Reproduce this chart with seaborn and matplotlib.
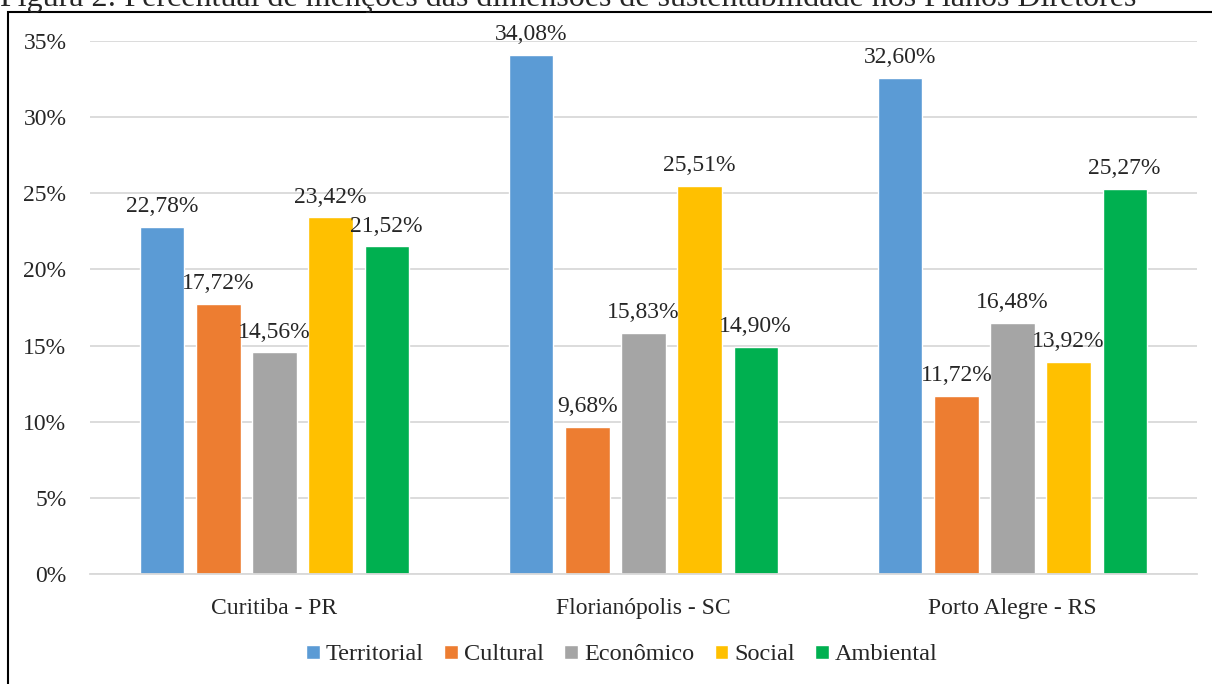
import pandas as pd
import matplotlib.pyplot as plt
import matplotlib.ticker as mticker
from matplotlib.patches import Rectangle
import seaborn as sns

cidades = ["Curitiba - PR", "Florianópolis - SC", "Porto Alegre - RS"]
dimensoes = ["Territorial", "Cultural", "Econômico", "Social", "Ambiental"]
territorial = [22.78, 34.08, 32.60]
cultural    = [17.72, 9.68, 11.72]
economico   = [14.56, 15.83, 16.48]
social      = [23.42, 25.51, 13.92]
ambiental   = [21.52, 14.90, 25.27]
cores = ["#5B9BD5", "#ED7D31", "#A5A5A5", "#FFC000", "#00B050"]

series = [territorial, cultural, economico, social, ambiental]
rows = []
for dim, vals in zip(dimensoes, series):
    for cid, v in zip(cidades, vals):
        rows.append({"cidade": cid, "dimensao": dim, "valor": v / 100})
df = pd.DataFrame(rows)

sns.set_theme(style="white")
plt.rcParams["font.family"] = ["Liberation Serif", "DejaVu Serif"]
FS = 17

fig = plt.figure(figsize=(12.12, 6.84), dpi=100)
ax = fig.add_axes([90 / 1212, 1 - 574 / 684, (1197 - 90) / 1212, (574 - 41) / 684])

sns.barplot(data=df, x="cidade", y="valor", hue="dimensao", order=cidades,
            hue_order=dimensoes, palette=cores, width=0.76, gap=0.21,
            saturation=1, ax=ax, legend=True)

ax.set_ylim(0, 0.35)
ax.set_yticks([i * 0.05 for i in range(8)])
ax.yaxis.set_major_formatter(mticker.FuncFormatter(lambda x, _: f"{x * 100:.0f}%"))
ax.yaxis.grid(True, color="#D9D9D9", linewidth=1.3)
ax.set_axisbelow(True)
for s in ["top", "right", "left"]:
    ax.spines[s].set_visible(False)
ax.spines["bottom"].set_color("#D9D9D9")
ax.spines["bottom"].set_linewidth(1.3)
ax.tick_params(axis="y", length=0, pad=17, labelsize=FS)
ax.tick_params(axis="x", length=0, pad=17, labelsize=FS)
ax.set_xlabel("")
ax.set_ylabel("")

for cont, vals in zip(ax.containers, series):
    ax.bar_label(cont, labels=[f"{v:.2f}".replace(".", ",") + "%" for v in vals],
                 padding=7, fontsize=FS)

handles, labels = ax.get_legend_handles_labels()
ax.legend(handles, labels, loc="center", bbox_to_anchor=(622 / 1212, 1 - 655 / 684),
          bbox_transform=fig.transFigure, ncol=5, frameon=False, fontsize=FS + 0.5,
          handlelength=0.55, handleheight=0.55, handletextpad=0.25, columnspacing=0.85)

fig.text(0.0, 1 - 6 / 684, "Figura 2: Percentual de menções das dimensões de sustentabilidade nos Planos Diretores",
         fontsize=23, va="baseline", ha="left")
fig.patches.append(Rectangle((8 / 1212, -0.05), 1.1, 0.05 + 1 - 12 / 684,
                             transform=fig.transFigure, fill=False,
                             edgecolor="black", linewidth=1.5))

plt.savefig("out.png", dpi=100)
